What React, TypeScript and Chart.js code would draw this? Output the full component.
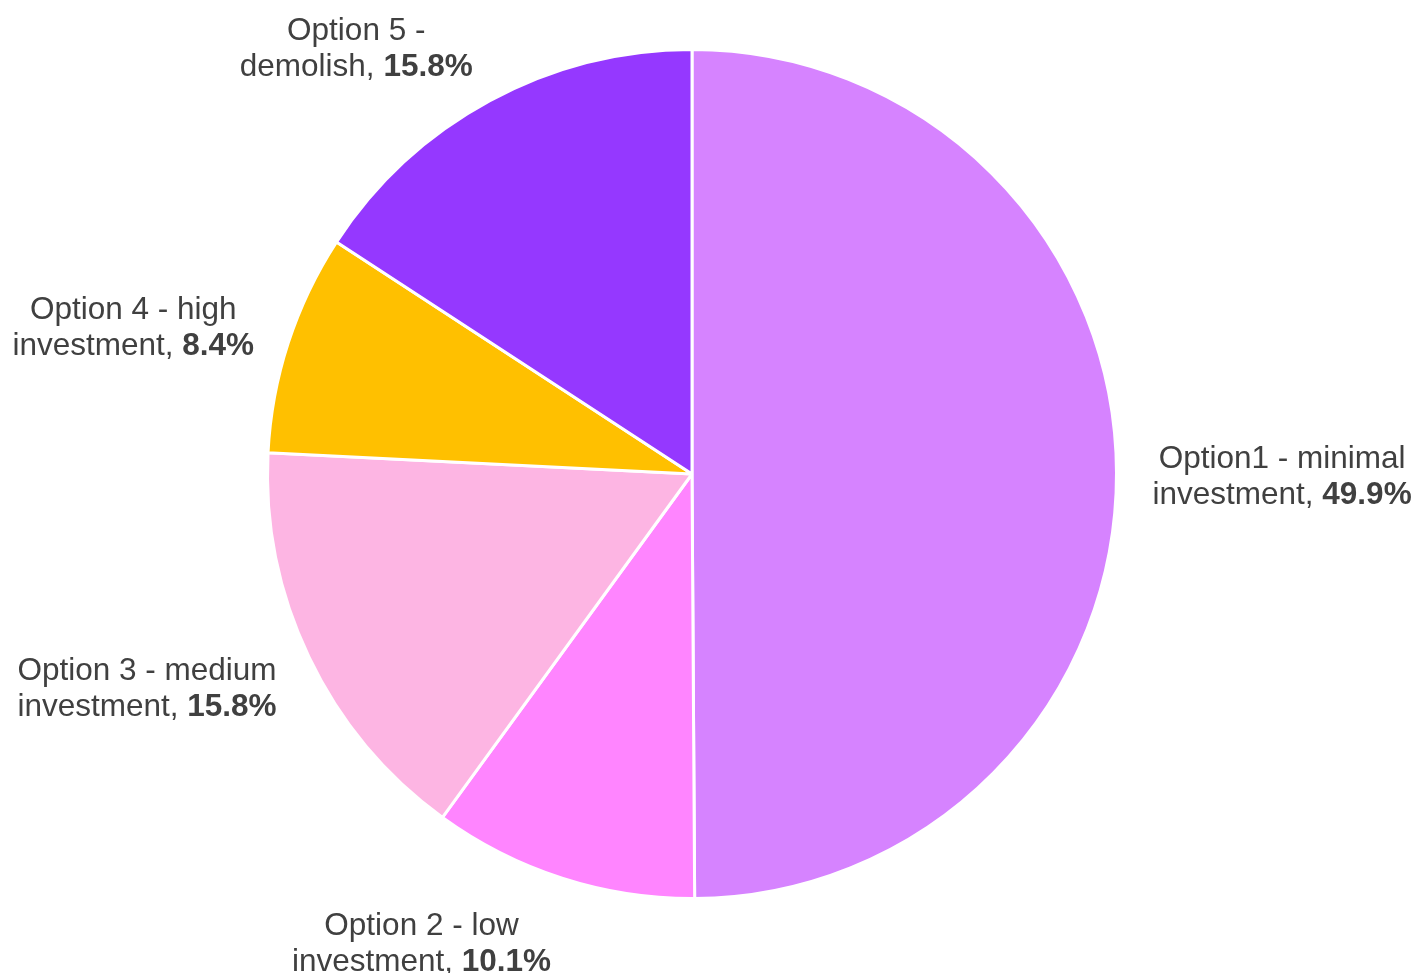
import React, { useEffect, useRef } from "react";
import { Chart, registerables } from "chart.js";

Chart.register(...registerables);

const categories = [
  "Option1 - minimal investment",
  "Option 2 - low investment",
  "Option 3 - medium investment",
  "Option 4 - high investment",
  "Option 5 - demolish",
];
const labelLine1 = ["Option1 - minimal", "Option 2 - low", "Option 3 - medium", "Option 4 - high", "Option 5 -"];
const labelLine2 = ["investment, ", "investment, ", "investment, ", "investment, ", "demolish, "];
const shares = [49.9, 10.1, 15.8, 8.4, 15.8];
const colors = ["#D683FF", "#FF85FF", "#FDB5E3", "#FFC000", "#9538FF"];

const FONT = '"Liberation Sans", Arial, sans-serif';
const FS = 31.5;
const LH = 36;
const TEXT_COLOR = "#404040";

const labelPlugin = {
  id: "outsideLabels",
  afterDraw(chart: any) {
    const ctx = chart.ctx as CanvasRenderingContext2D;
    const meta = chart.getDatasetMeta(0);
    ctx.save();
    ctx.fillStyle = TEXT_COLOR;
    ctx.textBaseline = "middle";
    ctx.textAlign = "left";
    meta.data.forEach((arc: any, i: number) => {
      const { x, y, startAngle, endAngle, outerRadius } = arc.getProps(
        ["x", "y", "startAngle", "endAngle", "outerRadius"],
        true
      );
      const mid = (startAngle + endAngle) / 2;
      const dx = Math.cos(mid);
      const dy = Math.sin(mid);
      const ax = x + (outerRadius + 36) * dx;
      const ay = y + (outerRadius + 28) * dy + 5;
      const l1 = labelLine1[i];
      const pre = labelLine2[i];
      const val = shares[i].toFixed(1) + "%";
      ctx.font = `${FS}px ${FONT}`;
      const w1 = ctx.measureText(l1).width;
      const wp = ctx.measureText(pre).width;
      ctx.font = `bold ${FS}px ${FONT}`;
      const wv = ctx.measureText(val).width;
      const w2 = wp + wv;
      const w = Math.max(w1, w2);
      const h = LH * 2;
      let left: number;
      if (dx > 0.1) left = ax;
      else if (dx < -0.1) left = ax - w;
      else left = ax - w / 2;
      const top = ay - (h * (1 - dy)) / 2;
      const cx = left + w / 2;
      ctx.font = `${FS}px ${FONT}`;
      ctx.fillText(l1, cx - w1 / 2, top + LH / 2);
      const x2 = cx - w2 / 2;
      ctx.fillText(pre, x2, top + LH * 1.5);
      ctx.font = `bold ${FS}px ${FONT}`;
      ctx.fillText(val, x2 + wp, top + LH * 1.5);
    });
    ctx.restore();
  },
};

export default function App() {
  const ref = useRef<HTMLCanvasElement>(null);
  useEffect(() => {
    document.body.style.margin = "0";
    const chart = new Chart(ref.current!, {
      type: "pie",
      data: {
        labels: categories,
        datasets: [
          {
            data: shares,
            backgroundColor: colors,
            borderColor: "#FFFFFF",
            borderWidth: 3,
          },
        ],
      },
      options: {
        animation: false,
        responsive: false,
        maintainAspectRatio: false,
        layout: { padding: { left: 266, right: 300, top: 48, bottom: 73 } },
        plugins: {
          legend: { display: false },
          tooltip: { enabled: false },
        },
      },
      plugins: [labelPlugin],
    });
    return () => chart.destroy();
  }, []);
  return (
    <div style={{ width: 1418, height: 973, background: "#fff" }}>
      <canvas ref={ref} width={1418} height={973} style={{ display: "block" }} />
    </div>
  );
}
